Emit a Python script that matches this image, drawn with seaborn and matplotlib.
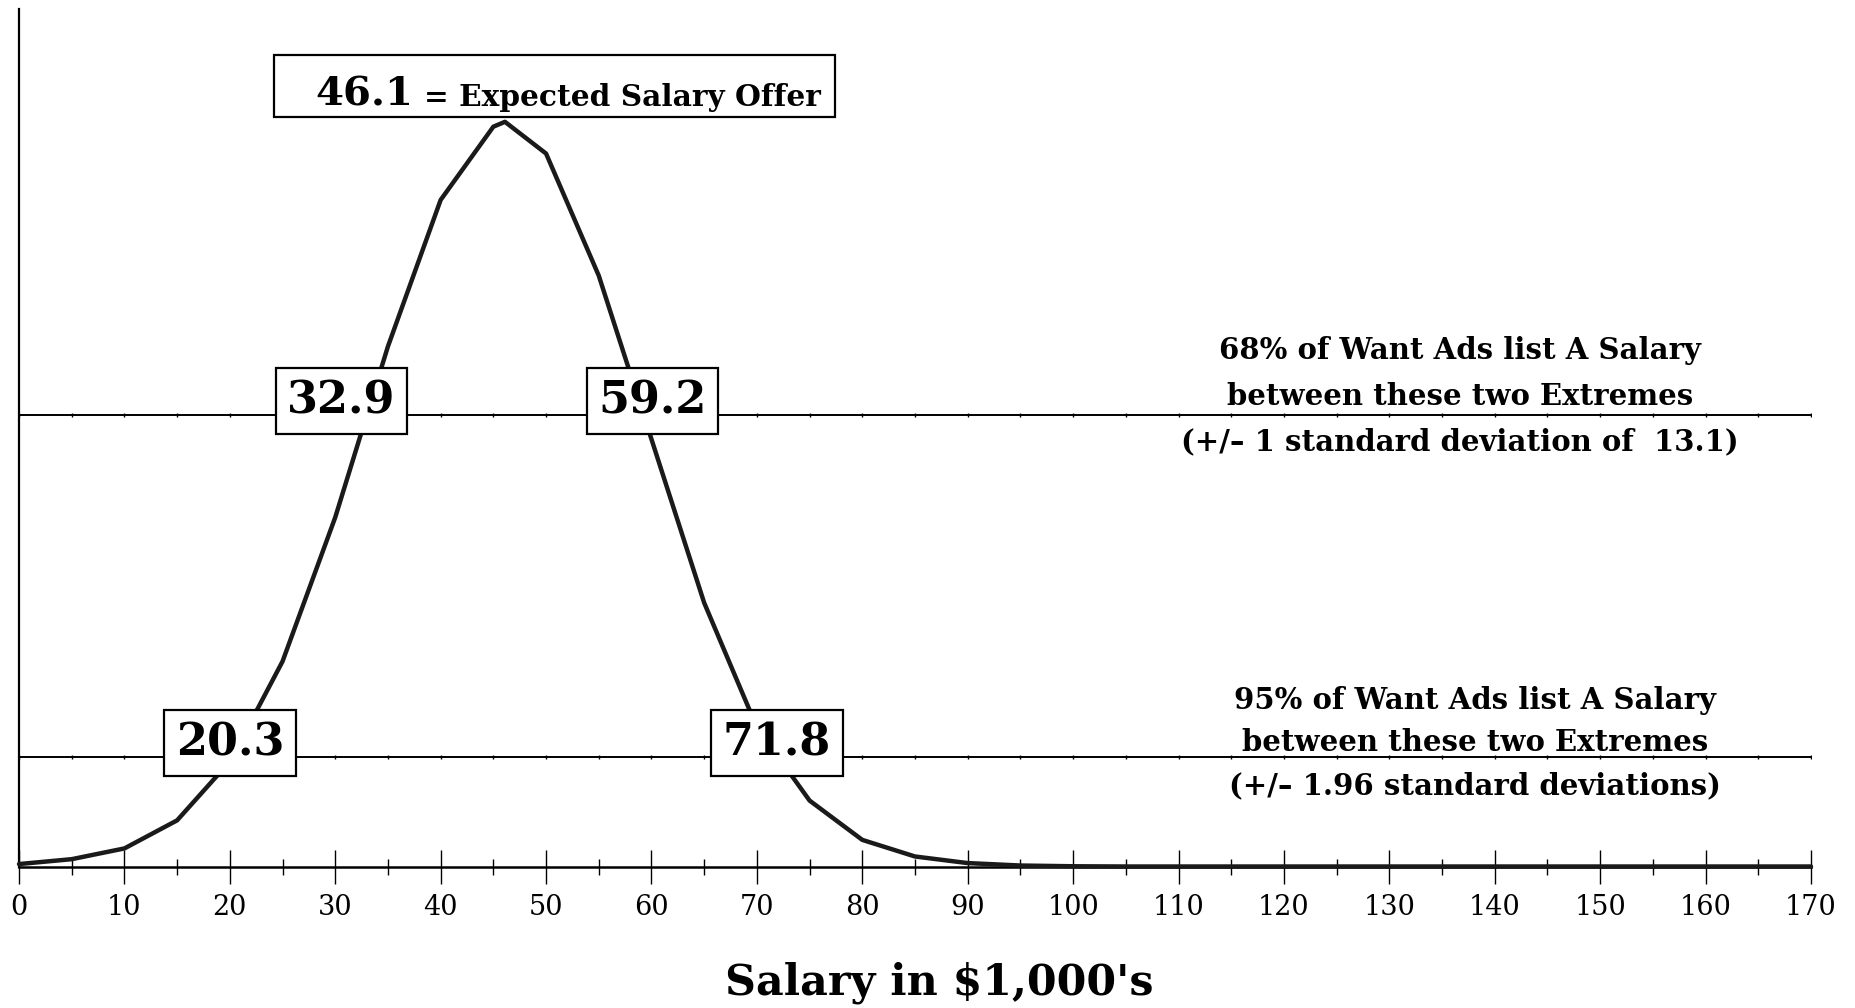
import matplotlib
matplotlib.use("Agg")
import matplotlib.pyplot as plt
from matplotlib.patches import Rectangle
from matplotlib.ticker import MultipleLocator
import seaborn as sns
import pandas as pd

# ---- data ----
salary_k = [0, 5, 10, 15, 20, 25, 30, 35, 40, 45, 46.1, 50, 55, 60, 65, 70, 75,
            80, 85, 90, 95, 100, 105, 110, 115, 120, 125, 130, 135, 140, 145,
            150, 155, 160, 165, 170]
density = [0.10, 0.30, 0.74, 1.89, 4.3, 8.4, 14.3, 21.3, 27.3, 30.3, 30.5, 29.2,
           24.2, 17.5, 10.8, 5.7, 2.7, 1.09, 0.41, 0.14, 0.04, 0.01, 0, 0, 0, 0,
           0, 0, 0, 0, 0, 0, 0, 0, 0, 0]

mean_label = "46.1"
mean_text = "= Expected Salary Offer"
band_levels = [18.5, 4.5]              # density level of the two reference lines
band_labels = [["32.9", "59.2"], ["20.3", "71.8"]]
band_label_x = [[30.6, 60.1], [20.0, 71.9]]
band_notes = [
    "68% of Want Ads list A Salary\nbetween these two Extremes\n(+/\u2013 1 standard deviation of  13.1)",
    "95% of Want Ads list A Salary\nbetween these two Extremes\n(+/\u2013 1.96 standard deviations)",
]
x_ticks = list(range(0, 171, 10))
x_label = "Salary in $1,000's"

# ---- style ----
sns.set_style("white")
plt.rcParams["font.family"] = ["DejaVu Serif"]
plt.rcParams["text.color"] = "black"
plt.rcParams["xtick.color"] = "black"
plt.rcParams["axes.labelcolor"] = "black"

W, H = 1856, 1008
fig = plt.figure(figsize=(W / 100, H / 100), dpi=100)
ax = fig.add_axes([19 / W, 1 - 866.5 / H, (1811 - 19) / W, (866.5 - 9.5) / H])

df = pd.DataFrame({"salary": salary_k, "density": density})
sns.lineplot(data=df, x="salary", y="density", ax=ax, color="#1a1a1a",
             lw=3.2, clip_on=False, zorder=3, sort=False)

ax.set_xlim(0, 170)
ax.set_ylim(0, 35.1)

# reference lines
minor_x = [v + 5 for v in x_ticks[:-1]]
for lvl in band_levels:
    ax.hlines(lvl, 0, 170, color="black", lw=1.4, zorder=2)
    ax.plot(x_ticks + minor_x, [lvl] * (len(x_ticks) + len(minor_x)),
            ls="none", marker="|", ms=3, mew=1, color="black", zorder=2)

# boxed values
for lvl, labs, xs in zip(band_levels, band_labels, band_label_x):
    for lab, xv in zip(labs, xs):
        ax.text(xv, lvl + 0.55, lab, ha="center", va="center", fontsize=32,
                weight="bold", zorder=5, color="black",
                bbox=dict(boxstyle="square,pad=0.26", fc="white", ec="black", lw=1.6))

# notes on the right
ax.text(136.7, 19.26, band_notes[0], ha="center", va="center", fontsize=21,
        weight="bold", linespacing=1.72)
ax.text(138.1, 5.06, band_notes[1], ha="center", va="center", fontsize=21,
        weight="bold", linespacing=1.59)

# mean box
fig.patches.append(Rectangle((274.5 / W, 1 - 117 / H), (835 - 274.5) / W, 62 / H,
                             transform=fig.transFigure, fc="white", ec="black",
                             lw=1.6, zorder=5))
fig.text(315 / W, 1 - 105.5 / H, mean_label, ha="left", va="baseline",
         fontsize=29, weight="bold", zorder=6)
fig.text(424 / W, 1 - 105.5 / H, mean_text, ha="left", va="baseline",
         fontsize=21.3, weight="bold", zorder=6)

# axes styling
for s in ["top", "right"]:
    ax.spines[s].set_visible(False)
ax.spines["left"].set_linewidth(1.6)
ax.spines["bottom"].set_linewidth(1.8)
ax.spines["left"].set_color("black")
ax.spines["bottom"].set_color("black")
ax.set_yticks([])
ax.set_xticks(x_ticks)
ax.set_xticklabels([str(t) for t in x_ticks])
ax.xaxis.set_minor_locator(MultipleLocator(5))
ax.tick_params(axis="x", which="both", bottom=True, top=False)
ax.tick_params(axis="x", which="major", direction="inout", length=24, width=1,
               color="black", pad=8, labelsize=19.5, labelcolor="black")
ax.tick_params(axis="x", which="minor", direction="inout", length=12, width=1,
               color="black")
ax.set_xlabel("")
ax.set_ylabel("")

fig.text(939 / W, 1 - 983 / H, x_label, ha="center", va="center",
         fontsize=30.8, weight="bold")

fig.savefig("out.png", dpi=100, facecolor="white")
